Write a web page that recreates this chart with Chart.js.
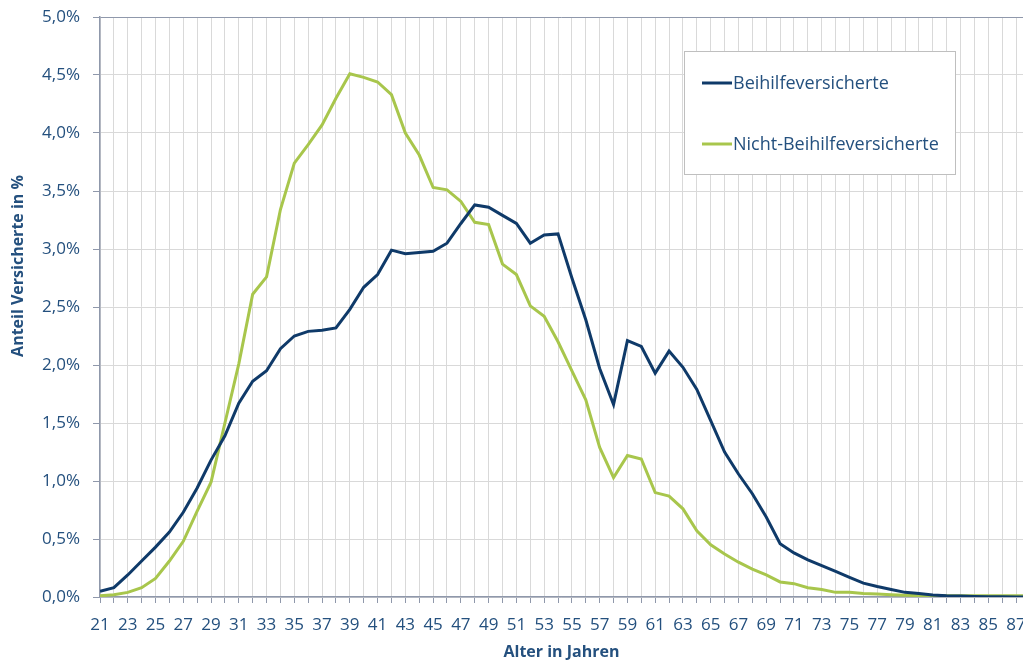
<!DOCTYPE html>
<html>
<head>
<meta charset="utf-8">
<style>
  html, body { margin: 0; padding: 0; background: #ffffff; }
  #chart { display: block; }
</style>
<script src="https://cdn.jsdelivr.net/npm/chart.js@4.4.1/dist/chart.umd.min.js"></script>
</head>
<body>
<canvas id="chart" width="1023" height="664"></canvas>
<script>
// Alter in Jahren (21 .. 88, the last one runs past the right edge)
const ages = [21, 22, 23, 24, 25, 26, 27, 28, 29, 30,
              31, 32, 33, 34, 35, 36, 37, 38, 39, 40,
              41, 42, 43, 44, 45, 46, 47, 48, 49, 50,
              51, 52, 53, 54, 55, 56, 57, 58, 59, 60,
              61, 62, 63, 64, 65, 66, 67, 68, 69, 70,
              71, 72, 73, 74, 75, 76, 77, 78, 79, 80,
              81, 82, 83, 84, 85, 86, 87, 88];

// Anteil in % je Alter
const beihilfe = [0.05, 0.08, 0.19, 0.31, 0.43, 0.56, 0.73, 0.94, 1.18, 1.39,
                  1.67, 1.86, 1.95, 2.14, 2.25, 2.29, 2.30, 2.32, 2.48, 2.67,
                  2.78, 2.99, 2.96, 2.97, 2.98, 3.05, 3.22, 3.38, 3.36, 3.29,
                  3.22, 3.05, 3.12, 3.13, 2.75, 2.39, 1.97, 1.66, 2.21, 2.16,
                  1.93, 2.12, 1.98, 1.79, 1.52, 1.25, 1.06, 0.89, 0.69, 0.46,
                  0.38, 0.32, 0.27, 0.22, 0.17, 0.12, 0.09, 0.065, 0.04, 0.03,
                  0.017, 0.01, 0.008, 0.005, 0.003, 0.002, 0.001, 0.001];

const nichtBeihilfe = [0.01, 0.02, 0.04, 0.08, 0.16, 0.31, 0.48, 0.74, 0.99, 1.50,
                       2.01, 2.61, 2.76, 3.34, 3.74, 3.90, 4.07, 4.30, 4.51, 4.48,
                       4.44, 4.33, 4.00, 3.81, 3.53, 3.51, 3.41, 3.23, 3.21, 2.87,
                       2.78, 2.51, 2.42, 2.20, 1.95, 1.70, 1.29, 1.03, 1.22, 1.19,
                       0.90, 0.87, 0.76, 0.57, 0.45, 0.37, 0.30, 0.24, 0.19, 0.13,
                       0.115, 0.08, 0.065, 0.04, 0.04, 0.03, 0.025, 0.02, 0.015, 0.012,
                       0.01, 0.01, 0.01, 0.01, 0.01, 0.01, 0.01, 0.01];

const seriesLabels = ['Beihilfeversicherte', 'Nicht-Beihilfeversicherte'];
const yTicks = [0, 0.5, 1, 1.5, 2, 2.5, 3, 3.5, 4, 4.5, 5];
const yTitle = 'Anteil Versicherte in %';

const textColor = '#24507e';
const axisColor = '#8f98ab';
const gridColor = '#d9d9d9';
const blue = '#0f3a69';
const green = '#a8c64c';
const fontFamily = '"Open Sans", sans-serif';

function toPoints(values) {
    return ages.map((a, i) => ({ x: a, y: values[i] }));
}

// legend box inside the plot and the y title (sits above centre in the original)
const extras = {
    id: 'extras',
    afterDatasetsDraw(chart) {
        const ctx = chart.ctx;
        const x = 684.5, y = 51.5, w = 271, h = 123;
        ctx.save();
        ctx.fillStyle = '#ffffff';
        ctx.fillRect(x, y, w, h);
        ctx.strokeStyle = '#bfbfbf';
        ctx.lineWidth = 1;
        ctx.strokeRect(x, y, w, h);
        const rows = [83, 144];
        chart.data.datasets.forEach((ds, i) => {
            ctx.strokeStyle = ds.borderColor;
            ctx.lineWidth = 3;
            ctx.beginPath();
            ctx.moveTo(702, rows[i]);
            ctx.lineTo(732, rows[i]);
            ctx.stroke();
            ctx.fillStyle = textColor;
            ctx.font = '18px ' + fontFamily;
            ctx.textBaseline = 'middle';
            ctx.textAlign = 'left';
            ctx.fillText(ds.label, 733, rows[i] + 1);
        });

        // y axis title
        ctx.translate(18, 266);
        ctx.rotate(-Math.PI / 2);
        ctx.font = 'bold 16px ' + fontFamily;
        ctx.fillStyle = textColor;
        ctx.textAlign = 'center';
        ctx.textBaseline = 'middle';
        ctx.fillText(yTitle, 0, 0);
        ctx.restore();
    }
};

const ctx = document.getElementById('chart').getContext('2d');
new Chart(ctx, {
    type: 'line',
    data: {
        datasets: [
            {
                label: seriesLabels[0],
                data: toPoints(beihilfe),
                borderColor: blue,
                borderWidth: 3,
                pointRadius: 0,
                tension: 0,
                fill: false
            },
            {
                label: seriesLabels[1],
                data: toPoints(nichtBeihilfe),
                borderColor: green,
                borderWidth: 3,
                pointRadius: 0,
                tension: 0,
                fill: false
            }
        ]
    },
    options: {
        responsive: false,
        animation: false,
        layout: { padding: { top: 17, left: 0, right: 0, bottom: 0 } },
        plugins: {
            legend: { display: false },
            tooltip: { enabled: false }
        },
        scales: {
            x: {
                type: 'linear',
                min: 21,
                max: 87.5,
                afterBuildTicks: (scale) => {
                    scale.ticks = ages.filter(a => a <= scale.max).map(a => ({ value: a }));
                },
                afterFit: (scale) => {
                    scale.height = 67;
                    scale.paddingRight = 0;
                },
                grid: {
                    color: gridColor,
                    tickColor: axisColor,
                    tickLength: 6
                },
                border: { color: axisColor, width: 1.5 },
                ticks: {
                    autoSkip: false,
                    maxRotation: 0,
                    padding: 12,
                    color: textColor,
                    font: { family: fontFamily, size: 17 },
                    callback: (v) => (v % 2 === 1 ? String(v) : '')
                },
                title: {
                    display: true,
                    text: 'Alter in Jahren',
                    color: textColor,
                    font: { family: fontFamily, size: 16, weight: 'bold' },
                    padding: { top: 0, bottom: 2 }
                }
            },
            y: {
                min: 0,
                max: 5,
                afterBuildTicks: (scale) => {
                    scale.ticks = yTicks.map(v => ({ value: v }));
                },
                afterFit: (scale) => {
                    scale.width = 100;
                    scale.paddingTop = 0;
                    scale.paddingBottom = 0;
                },
                grid: {
                    color: (c) => (c.tick && c.tick.value === 5 ? axisColor : gridColor),
                    tickColor: axisColor,
                    tickLength: 7
                },
                border: { color: axisColor, width: 1.5 },
                ticks: {
                    padding: 13,
                    color: textColor,
                    font: { family: fontFamily, size: 17 },
                    callback: (v) => v.toFixed(1).replace('.', ',') + '%'
                },
                title: { display: false }
            }
        }
    },
    plugins: [extras]
});
</script>
</body>
</html>
